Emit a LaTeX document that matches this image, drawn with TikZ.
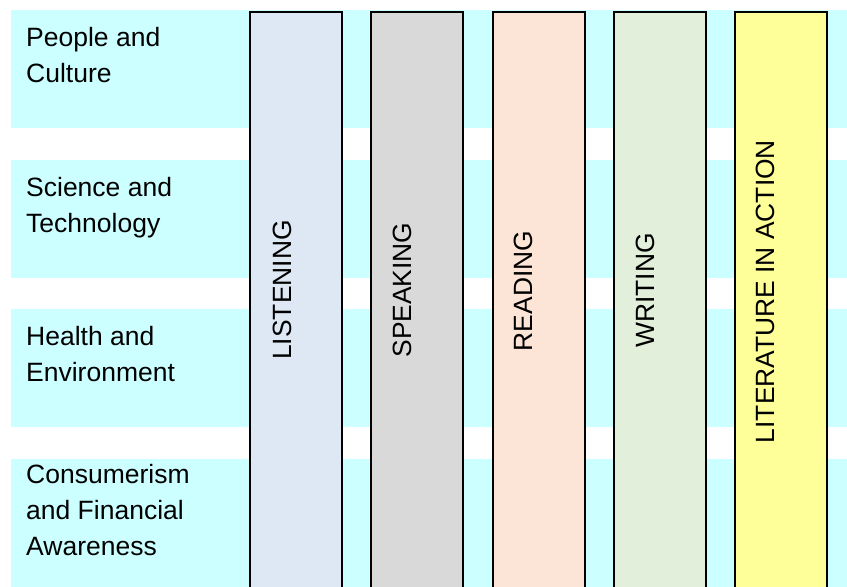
\documentclass[tikz,border=0pt]{standalone}
\usepackage{fontspec}
\setmainfont{Liberation Sans}
\usepackage{xcolor}
\usetikzlibrary{positioning}
\definecolor{bandcyan}{RGB}{204, 255, 255}
\definecolor{listenblue}{RGB}{222, 232, 245}
\definecolor{speakgrey}{RGB}{217, 217, 217}
\definecolor{readpeach}{RGB}{252, 228, 214}
\definecolor{writegreen}{RGB}{226, 239, 218}
\definecolor{lityellow}{RGB}{255, 255, 153}

\begin{document}
\begin{tikzpicture}[x=1pt, y=-1pt]
    \tikzstyle{band} = [rectangle, fill=bandcyan, draw=none, anchor=north west, minimum width=840pt, minimum height=118pt, inner sep=0pt]
    \tikzstyle{theme} = [anchor=north west, align=left, inner sep=0pt, font=\fontsize{26.5}{36}\selectfont]
    \tikzstyle{skill} = [rectangle, draw=black, line width=2pt, anchor=north, minimum width=92pt, minimum height=600pt, inner sep=0pt]
    \tikzstyle{skilltext} = [rotate=90, inner sep=0pt, font=\fontsize{26.4}{30}\selectfont]

    \useasboundingbox (0,0) rectangle (847,587);
    \clip (0,0) rectangle (847,587);

    % theme bands
    \node (band1) [band] at (11,10) {};
    \node (band2) [band] at (11,160) {};
    \node (band3) [band] at (11,309) {};
    \node (band4) [band, minimum height=140pt] at (11,459) {};

    \node (people) [theme] at (26,27.5) {People and\\Culture};
    \node (science) [theme] at (26,177.5) {Science and\\Technology};
    \node (health) [theme] at (26,326.5) {Health and\\Environment};
    \node (consumer) [theme] at (26,464.5) {Consumerism\\and Financial\\Awareness};

    % skill columns
    \node (listen) [skill, fill=listenblue] at (295.5,11) {};
    \node (speak) [skill, fill=speakgrey] at (417,11) {};
    \node (read) [skill, fill=readpeach] at (539,11) {};
    \node (write) [skill, fill=writegreen] at (660,11) {};
    \node (lit) [skill, fill=lityellow] at (781,11) {};

    \node (listenlbl) [skilltext] at (282,290) {LISTENING};
    \node (speaklbl) [skilltext] at (402.5,290) {SPEAKING};
    \node (readlbl) [skilltext] at (523.5,291) {READING};
    \node (writelbl) [skilltext] at (645.5,290.5) {WRITING};
    \node (litlbl) [skilltext] at (765,291.5) {LITERATURE IN ACTION};
\end{tikzpicture}
\end{document}
